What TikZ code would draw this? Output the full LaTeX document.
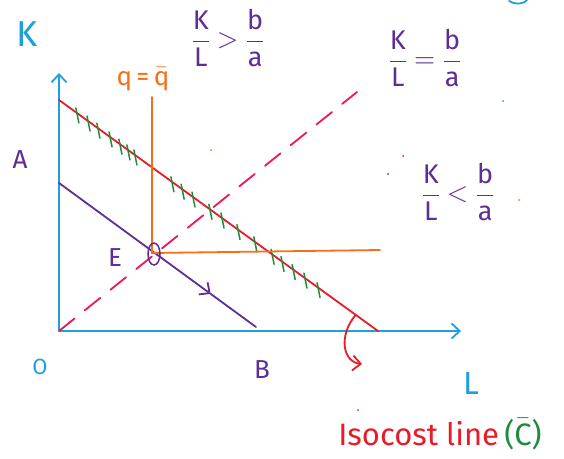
\documentclass[tikz,border=0pt]{standalone}
\usepackage{amsmath}
\usepackage{fontspec}
\usepackage{unicode-math}
\setmainfont{Fira Sans}
\setmathfont{Latin Modern Math}
\usetikzlibrary{arrows.meta, calc}
\definecolor{axisblue}{RGB}{30,160,220}
\definecolor{costred}{RGB}{232,28,40}
\definecolor{raypink}{RGB}{240,20,90}
\definecolor{quantpurple}{RGB}{95,45,150}
\definecolor{outorange}{RGB}{248,110,20}
\definecolor{hatchgreen}{RGB}{30,140,60}

\begin{document}
\begin{tikzpicture}[
  x=1pt, y=-1pt, line width=1.8pt, line cap=round,
  barb/.style={-{Straight Barb[length=8pt, width=15pt]}},
  axis/.style={axisblue, barb},
  isocost/.style={costred},
  isoquant/.style={quantpurple},
  ray/.style={raypink, dash pattern=on 20pt off 13pt},
  output/.style={outorange},
  hatch/.style={hatchgreen, line width=1.5pt},
  lbl/.style={font=\fontsize{26}{28}\selectfont, inner sep=0pt},
  ratio/.style={quantpurple, font=\fontsize{27}{29}\selectfont, inner sep=0pt}]

  \useasboundingbox (0,0) rectangle (564,458);

  % axes
  \coordinate (O) at (59,331);
  \coordinate (Ktip) at (59,73);
  \coordinate (Ltip) at (461,331);
  \draw[axis] (O) -- (Ktip);
  \draw[axis] (O) -- (Ltip);

  % isocost line and its hatching
  \coordinate (isoA) at (59,100);
  \coordinate (isoB) at (378,331);
  \draw[isocost] (isoA) -- (isoB);
  \foreach \t in {0.056,0.091,0.122,0.16,0.191,0.216,0.238,
                  0.354,0.386,0.42,0.473,0.511,0.561,0.614,
                  0.668,0.699,0.734,0.771,0.812}
    \draw[hatch] ($(isoA)!\t!(isoB)$) ++(-1,-5) -- ++(3,15);

  % expansion ray K/L = b/a
  \coordinate (rayEnd) at (357,92);
  \draw[ray] (O) -- (rayEnd);

  % isoquant with direction arrow
  \coordinate (iqA) at (59,183);
  \coordinate (iqB) at (256,327);
  \coordinate (iqM) at ($(iqA)!0.77!(iqB)$);
  \draw[isoquant, barb] (iqA) -- (iqM);
  \draw[isoquant] (iqM) -- (iqB);

  % output level q = q-bar
  \coordinate (qTop) at (152,97);
  \coordinate (E) at (152,253);
  \coordinate (qRight) at (380,250);
  \draw[output] (qTop) -- (E) -- (qRight);
  \draw[isoquant, line width=1.5pt] (154,254) ellipse [x radius=6, y radius=11];

  % pointer to the isocost line
  \coordinate (ptr) at ($(isoA)!0.93!(isoB)$);
  \draw[isocost, barb] (ptr) .. controls (338,336) and (343,362) .. (362,364);

  % labels
  \node[lbl, axisblue, font=\fontsize{36}{38}\selectfont] (lblK) at (27,34) {K};
  \node[lbl, axisblue, font=\fontsize{32}{34}\selectfont] (lblL) at (471,383) {L};
  \node[lbl, axisblue, font=\fontsize{22}{24}\selectfont] (lblO) at (40,367) {O};
  \node[lbl, quantpurple] (lblA) at (20,160) {A};
  \node[lbl, quantpurple] (lblB) at (262,370) {B};
  \node[lbl, quantpurple] (lblE) at (115,258) {E};
  \node[lbl, outorange] (lblq) at (143,79) {q\,=\,$\bar{\text{q}}$};
  \node[ratio] (above) at (228,38) {$\dfrac{\text{K}}{\text{L}} > \dfrac{\text{b}}{\text{a}}$};
  \node[ratio] (equal) at (425,58) {$\dfrac{\text{K}}{\text{L}} = \dfrac{\text{b}}{\text{a}}$};
  \node[ratio] (below) at (458,192) {$\dfrac{\text{K}}{\text{L}} < \dfrac{\text{b}}{\text{a}}$};
  \node[lbl, font=\fontsize{31}{33}\selectfont] (costlbl) at (440,434)
    {\textcolor{costred}{Isocost line}\,\textcolor{hatchgreen}{($\bar{\text{C}}$)}};

  % stray marks
  \draw[axisblue] (509,1) .. controls (516,5) and (524,4) .. (527,0);
  \fill[axisblue] (503,101) circle (1);
  \fill[costred] (403,156) circle (1);
  \fill[costred] (358,410) circle (1);
  \fill[quantpurple] (388,174) circle (1);
  \fill[outorange] (519,200) circle (1);
  \fill[outorange] (211,150) circle (1);
\end{tikzpicture}
\end{document}
